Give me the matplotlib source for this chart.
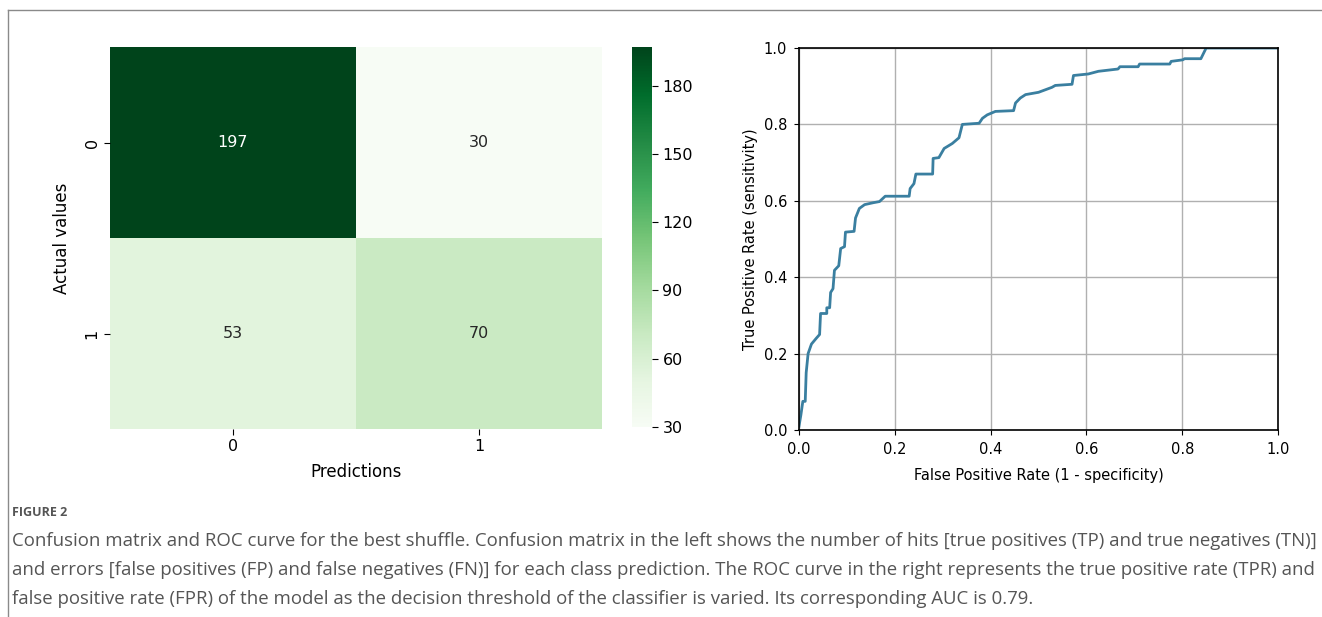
import numpy as np
import matplotlib
matplotlib.use("Agg")
import matplotlib.pyplot as plt
import seaborn as sns
from matplotlib.lines import Line2D

# confusion matrix (rows: actual, cols: predicted)
class_labels = ["0", "1"]
cm_values = [[197, 30],
             [53, 70]]
cbar_ticks = [30, 60, 90, 120, 150, 180]

# ROC curve corner points
fpr = [0.000, 0.004, 0.008, 0.013, 0.015, 0.019, 0.026, 0.036, 0.043, 0.045,
       0.058, 0.058, 0.064, 0.066, 0.071, 0.074, 0.083, 0.087, 0.095, 0.097,
       0.115, 0.118, 0.126, 0.137, 0.155, 0.168, 0.180, 0.230, 0.232, 0.240,
       0.244, 0.279, 0.280, 0.292, 0.303, 0.320, 0.334, 0.341, 0.376, 0.383,
       0.393, 0.410, 0.448, 0.452, 0.462, 0.473, 0.500, 0.528, 0.535, 0.570,
       0.573, 0.604, 0.625, 0.666, 0.670, 0.708, 0.711, 0.774, 0.777, 0.801,
       0.805, 0.839, 0.850, 1.000]
tpr = [0.010, 0.040, 0.075, 0.075, 0.150, 0.200, 0.225, 0.240, 0.250, 0.305,
       0.305, 0.320, 0.320, 0.360, 0.370, 0.418, 0.430, 0.475, 0.480, 0.518,
       0.520, 0.555, 0.580, 0.590, 0.595, 0.598, 0.612, 0.612, 0.632, 0.645,
       0.670, 0.670, 0.711, 0.713, 0.737, 0.750, 0.765, 0.800, 0.803, 0.816,
       0.825, 0.834, 0.836, 0.856, 0.869, 0.878, 0.884, 0.897, 0.902, 0.905,
       0.928, 0.932, 0.939, 0.945, 0.951, 0.951, 0.958, 0.958, 0.965, 0.969,
       0.972, 0.972, 1.000, 1.000]
roc_ticks = [0.0, 0.2, 0.4, 0.6, 0.8, 1.0]

caption_head = "FIGURE 2"
caption_lines = [
    "Confusion matrix and ROC curve for the best shuffle. Confusion matrix in the left shows the number of hits [true positives (TP) and true negatives (TN)]",
    "and errors [false positives (FP) and false negatives (FN)] for each class prediction. The ROC curve in the right represents the true positive rate (TPR) and",
    "false positive rate (FPR) of the model as the decision threshold of the classifier is varied. Its corresponding AUC is 0.79.",
]

W, H = 1322, 617
fig = plt.figure(figsize=(W / 100, H / 100), dpi=100)
fig.patch.set_facecolor("white")

def box(l, t, r, b):
    return [l / W, 1 - b / H, (r - l) / W, (b - t) / H]

plt.rcParams["font.family"] = ["DejaVu Sans"]

# confusion matrix
ax_cm = fig.add_axes(box(110, 47, 602, 429))
cax = fig.add_axes(box(632, 47, 652, 427))
sns.heatmap(np.array(cm_values), annot=True, fmt="d", cmap="Greens",
            ax=ax_cm, cbar_ax=cax, annot_kws={"fontsize": 11.5},
            xticklabels=class_labels, yticklabels=class_labels)
ax_cm.set_xlabel("Predictions", fontsize=12, labelpad=6)
ax_cm.set_ylabel("Actual values", fontsize=12, labelpad=10)
ax_cm.tick_params(labelsize=11.5, length=4)
plt.setp(ax_cm.get_yticklabels(), rotation=90, va="center")
cax.set_yticks(cbar_ticks)
cax.tick_params(labelsize=11.5, length=4)

# ROC curve
ax_roc = fig.add_axes(box(799, 48, 1278, 430))
ax_roc.plot(fpr, tpr, color="#3a7fa0", lw=2)
ax_roc.set_xlim(0, 1)
ax_roc.set_ylim(0, 1)
ax_roc.set_xticks(roc_ticks)
ax_roc.set_yticks(roc_ticks)
ax_roc.grid(True, color="#b0b0b0", lw=1)
ax_roc.tick_params(labelsize=10.5, length=3.5, pad=5)
ax_roc.set_xlabel("False Positive Rate (1 - specificity)", fontsize=10.5, labelpad=8)
ax_roc.set_ylabel("True Positive Rate (sensitivity)", fontsize=10.5)
for s in ax_roc.spines.values():
    s.set_color("black")
    s.set_linewidth(1.2)

# frame lines and caption
fig.add_artist(Line2D([8 / W, 1], [1 - 10 / H, 1 - 10 / H], color="#8a8a8a", lw=1))
fig.add_artist(Line2D([8 / W, 8 / W], [0, 1 - 10 / H], color="#8a8a8a", lw=1))

fig.text(12 / W, 1 - 512 / H, caption_head, fontsize=9, color="#555555",
         family="Open Sans", va="center", fontweight="bold")
for i, line in enumerate(caption_lines):
    fig.text(12 / W, 1 - (541 + 29 * i) / H, line, fontsize=13.4,
             color="#555555", family="Open Sans", va="center")

fig.savefig("out.png", dpi=100)
